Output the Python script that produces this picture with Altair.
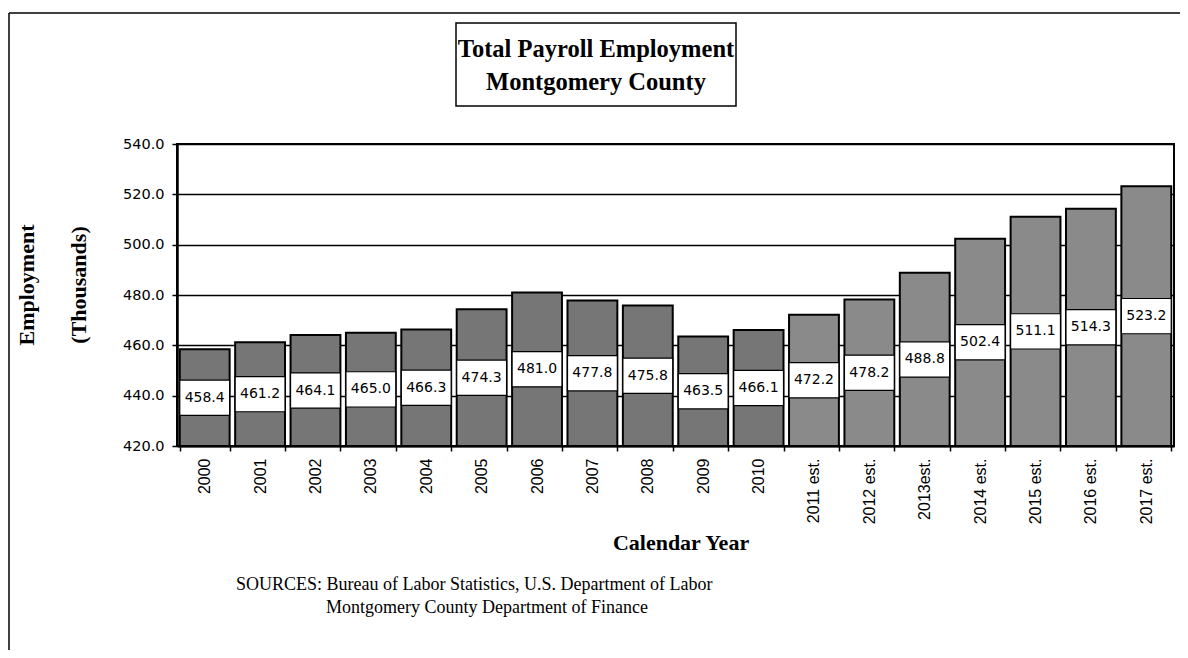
import altair as alt
import pandas as pd

# ---- data ----
years = ["2000", "2001", "2002", "2003", "2004", "2005", "2006", "2007", "2008",
         "2009", "2010", "2011 est.", "2012 est.", "2013est.", "2014 est.",
         "2015 est.", "2016 est.", "2017 est."]
values = [458.4, 461.2, 464.1, 465.0, 466.3, 474.3, 481.0, 477.8, 475.8,
          463.5, 466.1, 472.2, 478.2, 488.8, 502.4, 511.1, 514.3, 523.2]
kinds = ["Actual"] * 11 + ["Estimate"] * 7
y_ticks = [420, 440, 460, 480, 500, 520, 540]

title_lines = ["Total Payroll Employment", "Montgomery County"]
y_title_lines = ["Employment", "(Thousands)"]
x_title = "Calendar Year"
source_lines = ["SOURCES: Bureau of Labor Statistics, U.S. Department of Labor",
                "Montgomery County Department of Finance"]

df = pd.DataFrame({"year": years, "value": values, "kind": kinds})
one = pd.DataFrame({"k": [0]})

W, H = 997, 302

xenc = alt.X("year:N", sort=years, title=None,
             scale=alt.Scale(paddingInner=0.1, paddingOuter=0.05))
yscale = alt.Scale(domain=[420, 540], zero=False, nice=False)


def yaxis():
    return alt.Axis(values=y_ticks, format=".1f", title=None, grid=True,
                    zindex=0)


base = alt.Chart(df)

bars = base.mark_bar(stroke="black", strokeWidth=2).encode(
    x=xenc,
    y=alt.Y("value:Q", scale=yscale, axis=yaxis()),
    y2=alt.datum(420),
    fill=alt.Fill("kind:N", scale=alt.Scale(domain=["Actual", "Estimate"],
                                            range=["#767676", "#8a8a8a"]),
                  legend=None),
)

boxes = base.transform_calculate(
    lo="(datum.value + 420) / 2 - 7", hi="(datum.value + 420) / 2 + 7"
).mark_bar(fill="white", stroke="black", strokeWidth=1.2).encode(
    x=xenc, y=alt.Y("lo:Q", scale=yscale, axis=yaxis()), y2="hi:Q")

labels = base.transform_calculate(mid="(datum.value + 420) / 2").mark_text(
    font="DejaVu Sans", fontSize=14, color="black", baseline="middle"
).encode(x=xenc,
         y=alt.Y("mid:Q", scale=yscale, axis=yaxis()),
         text=alt.Text("value:Q", format=".1f"))

deco = alt.Chart(one)
title_box = deco.mark_rect(fill="white", stroke="black", strokeWidth=1.5).encode(
    x=alt.value(279), x2=alt.value(559), y=alt.value(-121), y2=alt.value(-38))
t1 = deco.mark_text(font="Liberation Serif", fontSize=24.5, fontWeight="bold",
                    color="black", baseline="middle").encode(
    x=alt.value(419), y=alt.value(-94), text=alt.value(title_lines[0]))
t2 = deco.mark_text(font="Liberation Serif", fontSize=24.5, fontWeight="bold",
                    color="black", baseline="middle").encode(
    x=alt.value(419), y=alt.value(-61), text=alt.value(title_lines[1]))
yt1 = deco.mark_text(font="Liberation Serif", fontSize=22, fontWeight="bold",
                     color="black", baseline="middle", angle=270).encode(
    x=alt.value(-150), y=alt.value(141), text=alt.value(y_title_lines[0]))
yt2 = deco.mark_text(font="Liberation Serif", fontSize=22, fontWeight="bold",
                     color="black", baseline="middle", angle=270).encode(
    x=alt.value(-98), y=alt.value(141), text=alt.value(y_title_lines[1]))
xt = deco.mark_text(font="Liberation Serif", fontSize=22, fontWeight="bold",
                    color="black", baseline="middle").encode(
    x=alt.value(504), y=alt.value(399), text=alt.value(x_title))
s1 = deco.mark_text(font="Liberation Serif", fontSize=18, color="black",
                    baseline="middle", align="left").encode(
    x=alt.value(59), y=alt.value(441), text=alt.value(source_lines[0]))
s2 = deco.mark_text(font="Liberation Serif", fontSize=18, color="black",
                    baseline="middle", align="left").encode(
    x=alt.value(149), y=alt.value(464), text=alt.value(source_lines[1]))
frame_left = deco.mark_rule(color="black", strokeWidth=1.5).encode(
    x=alt.value(-168), y=alt.value(-131), y2=alt.value(510))
frame_top = deco.mark_rule(color="black", strokeWidth=1.5).encode(
    x=alt.value(-168), x2=alt.value(1010), y=alt.value(-131))

chart = alt.layer(
    bars, boxes, labels, title_box, t1, t2, yt1, yt2, xt, s1, s2,
    frame_left, frame_top
).properties(
    width=W, height=H,
    autosize=alt.AutoSizeParams(type="none"),
    padding={"left": 169, "top": 136, "right": 6, "bottom": 204},
    background="white",
).configure_view(
    stroke="black", strokeWidth=2
).configure_axisY(
    gridColor="black", gridWidth=1.5, gridOpacity=1,
    labelFont="DejaVu Sans", labelFontSize=14.5, labelColor="black",
    tickSize=5, tickColor="black", tickWidth=1.5,
    domainColor="black", domainWidth=2.5, labelPadding=8,
).configure_axisX(
    labelAngle=270, labelAlign="right", labelBaseline="middle",
    labelFont="Liberation Sans", labelFontSize=16, labelColor="black",
    tickBand="extent", tickSize=5, tickColor="black", tickWidth=1.5,
    domainColor="black", domainWidth=2, labelPadding=7, grid=False,
)

chart.save("out.html", embed_options={"renderer": "svg", "actions": False})
